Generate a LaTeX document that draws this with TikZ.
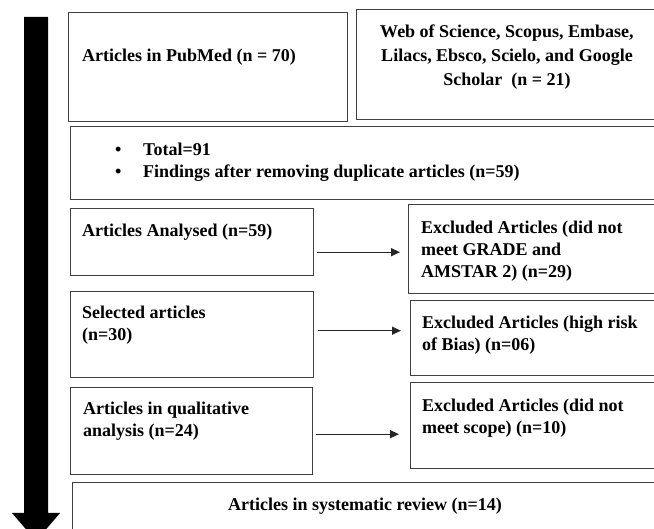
\documentclass[tikz,border=0pt]{standalone}
\usepackage{fontspec}
\setmainfont{Liberation Serif}
\usetikzlibrary{arrows.meta,positioning}

\tikzset{
  box/.style={draw=black!75, line width=1.4pt, anchor=north west, inner sep=0pt},
  txt/.style={font=\fontsize{18}{22}\selectfont\bfseries, inner sep=0pt, align=left, anchor=west},
  arr/.style={draw=black!85, line width=1.3pt, -{Triangle[length=9pt,width=8pt]}}
}

\begin{document}
\begin{tikzpicture}[x=1pt,y=1pt]
  \useasboundingbox (0,0) rectangle (654,-529);
  \clip (0,0) rectangle (654,-529);
  % time line
  \fill [black] (24,-17) -- (48,-17) -- (48,-513) -- (60,-513) -- (36,-541)
    -- (12,-513) -- (24,-513) -- cycle;
  % boxes
  \node [box, minimum width=279pt, minimum height=109pt] (pubmed) at (68,-12) {};
  \node [box, minimum width=320pt, minimum height=110pt] (wos)    at (356,-9) {};
  \node [box, minimum width=600pt, minimum height=73pt]  (total)  at (70,-126) {};
  \node [box, minimum width=243pt, minimum height=67pt]  (ana)    at (70,-208) {};
  \node [box, minimum width=262pt, minimum height=89pt]  (exc1)   at (408,-204) {};
  \node [box, minimum width=243pt, minimum height=86pt]  (sel)    at (70,-291) {};
  \node [box, minimum width=260pt, minimum height=75pt]  (exc2)   at (410,-300) {};
  \node [box, minimum width=242pt, minimum height=87pt]  (qual)   at (70,-387) {};
  \node [box, minimum width=260pt, minimum height=86pt]  (exc3)   at (410,-382) {};
  \node [box, minimum width=598pt, minimum height=70pt]  (review) at (72,-482) {};
  % texts
  \node [txt] (pubmedt) at ([shift={(14,-45)}]pubmed.north west) {Articles in PubMed (n = 70)};
  \node [txt, anchor=center, align=center, font=\fontsize{18}{24}\selectfont\bfseries] (wost)
    at ([shift={(151,-48)}]wos.north west)
    {Web of Science, Scopus, Embase,\\ Lilacs, Ebsco, Scielo, and Google\\ Scholar \ (n = 21)};
  \node [txt] (totalt) at ([shift={(45,-36)}]total.north west)
    {\makebox[28pt][l]{\textbullet}Total=91\\
     \makebox[28pt][l]{\textbullet}Findings after removing duplicate articles (n=59)};
  \node [txt] (anat)  at ([shift={(12,-24)}]ana.north west) {Articles Analysed (n=59)};
  \node [txt] (exc1t) at ([shift={(13,-47)}]exc1.north west)
    {Excluded Articles (did not\\ meet GRADE and\\ AMSTAR 2) (n=29)};
  \node [txt] (selt)  at ([shift={(12,-34)}]sel.north west) {Selected articles\\ (n=30)};
  \node [txt] (exc2t) at ([shift={(12,-35)}]exc2.north west)
    {Excluded Articles (high risk\\ of Bias) (n=06)};
  \node [txt] (qualt) at ([shift={(13,-34)}]qual.north west)
    {Articles in qualitative\\ analysis (n=24)};
  \node [txt] (exc3t) at ([shift={(12,-36)}]exc3.north west)
    {Excluded Articles (did not\\ meet scope) (n=10)};
  \node [txt, anchor=center] (reviewt) at ([shift={(293,-24)}]review.north west)
    {Articles in systematic review (n=14)};
  % exclusions
  \draw [arr, shorten <=3pt, shorten >=8pt] ([yshift=-10pt]ana.east) -- ([yshift=-10pt]ana.east -| exc1.west);
  \draw [arr, shorten <=4pt, shorten >=9pt] ([yshift=4pt]sel.east) -- ([yshift=4pt]sel.east -| exc2.west);
  \draw [arr, shorten <=3pt, shorten >=11pt] ([yshift=-3pt]qual.east) -- ([yshift=-3pt]qual.east -| exc3.west);
\end{tikzpicture}
\end{document}
